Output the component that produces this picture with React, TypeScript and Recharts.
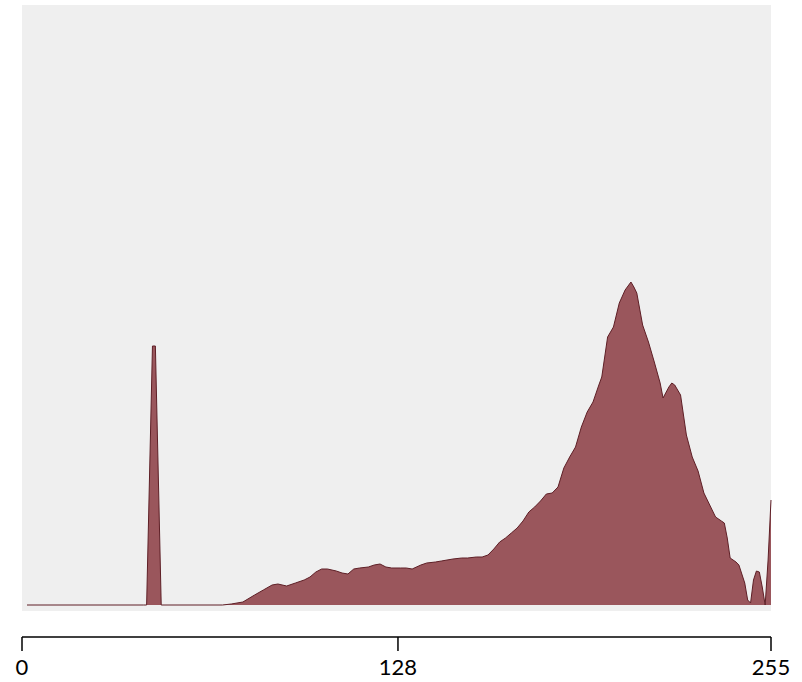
import React from 'react';
import {
  AreaChart,
  Area,
  XAxis,
  YAxis,
  CartesianGrid,
  ComposedChart,
} from 'recharts';

// histogram bins (0-255) and counts
const bins = [
  0, 40, 41, 43, 44, 46, 67, 70, 74, 78, 81, 84, 86, 89, 92, 95, 97, 99, 101, 103,
  106, 108, 110, 112, 114, 117, 119, 121, 123, 125, 128, 130, 132, 135, 137, 140,
  142, 146, 149, 151, 154, 156, 158, 160, 162, 164, 166, 168, 170, 172, 174, 176,
  178, 180, 182, 184, 186, 188, 190, 192, 194, 196, 197, 199, 201, 203, 205, 207,
  208, 209, 211, 213, 215, 217, 218, 220, 221, 222, 224, 226, 228, 230, 232, 234,
  236, 238, 239, 240, 241, 243, 244, 246, 247, 248, 249, 250, 251, 252, 253, 254, 255,
];

const counts = [
  0, 0, 0, 259, 259, 0, 0, 1, 3, 10, 15, 20, 21, 19, 22, 25, 28, 33, 36, 36,
  34, 32, 31, 36, 37, 38, 40, 41, 38, 37, 37, 37, 36, 40, 42, 43,
  44, 46, 47, 47, 48, 48, 50, 56, 63, 67, 72, 77, 84, 93, 98, 104,
  111, 112, 118, 137, 148, 158, 178, 193, 203, 220, 228, 268, 278, 302, 315, 323,
  318, 312, 280, 263, 243, 222, 207, 218, 222, 220, 210, 170, 148, 134, 112, 100,
  88, 84, 82, 67, 47, 43, 40, 22, 5, 2, 25, 34, 33, 18, 0, 45, 105,
];

const axisTicks = [0, 128, 255];

const histData = bins.map((b, i) => ({ bin: b, count: counts[i] }));
const tickData = axisTicks.map((t) => ({ v: t }));

const FONT = 'Lato, "Open Sans", "Liberation Sans", sans-serif';

const App: React.FC = () => {
  return (
    <div
      style={{
        position: 'absolute',
        left: 0,
        top: 0,
        width: 802,
        height: 682,
        background: '#ffffff',
        fontFamily: FONT,
      }}
    >
      <div style={{ position: 'absolute', left: 0, top: 0 }}>
        <AreaChart
          width={802}
          height={620}
          data={histData}
          margin={{ top: 5, right: 31, bottom: 9, left: 22 }}
        >
          <CartesianGrid horizontal={false} vertical={false} fill="#efefef" stroke="none" />
          <XAxis
            dataKey="bin"
            type="number"
            domain={[0, 255]}
            padding={{ left: 5, right: 0 }}
            hide
          />
          <YAxis type="number" domain={[0, 600]} padding={{ top: 0, bottom: 6 }} hide />
          <Area
            type="linear"
            dataKey="count"
            stroke="#5e1f26"
            strokeWidth={1}
            fill="#9a565c"
            fillOpacity={1}
            isAnimationActive={false}
            dot={false}
            activeDot={false}
          />
        </AreaChart>
      </div>
      <div style={{ position: 'absolute', left: 0, top: 620 }}>
        <ComposedChart
          width={802}
          height={62}
          data={tickData}
          margin={{ top: 0, right: 31, bottom: 0, left: 22 }}
        >
          <XAxis
            dataKey="v"
            type="number"
            domain={[0, 255]}
            ticks={axisTicks}
            interval={0}
            height={45}
            tickSize={14}
            tickMargin={8}
            axisLine={{ stroke: '#000', strokeWidth: 1.5 }}
            tickLine={{ stroke: '#000', strokeWidth: 1.5 }}
            tick={{ fill: '#000', fontSize: 22, fontFamily: FONT }}
          />
          <YAxis hide domain={[0, 1]} />
        </ComposedChart>
      </div>
    </div>
  );
};

export default App;
